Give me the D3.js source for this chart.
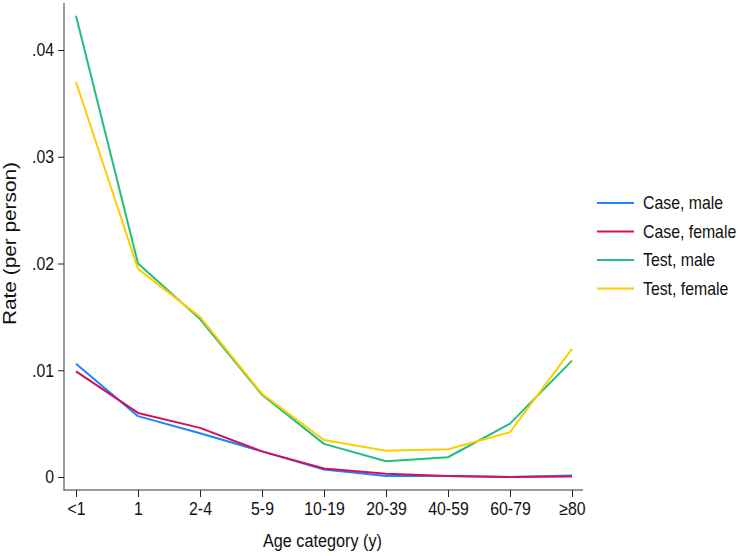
<!DOCTYPE html>
<html>
<head>
<meta charset="utf-8">
<script src="https://cdn.jsdelivr.net/npm/d3@7"></script>
<style>
  body { margin: 0; background: #fff; }
  svg text { font-family: "Liberation Sans", Arial, sans-serif; fill: #111; }
</style>
</head>
<body>
<div id="chart"></div>
<script>
const categories = ["<1", "1", "2-4", "5-9", "10-19", "20-39", "40-59", "60-79", "≥80"];
const yTicks = [0, 0.01, 0.02, 0.03, 0.04];
const yTickLabels = ["0", ".01", ".02", ".03", ".04"];

const caseMale   = [0.0106, 0.0057, 0.0041, 0.0024, 0.0007, 0.0001, 0.0001, 0.0000, 0.00015];
const caseFemale = [0.0099, 0.0060, 0.0046, 0.0024, 0.0008, 0.0003, 0.0001, 0.0000, 0.00005];
const testMale   = [0.0432, 0.0200, 0.0148, 0.0077, 0.0031, 0.00147, 0.00185, 0.0050, 0.0109];
const testFemale = [0.0370, 0.0195, 0.0150, 0.0078, 0.00347, 0.00246, 0.0026, 0.0042, 0.0120];

const seriesNames = ["Case, male", "Case, female", "Test, male", "Test, female"];
const seriesColors = ["#1a85ff", "#d41159", "#1fbf7f", "#ffcc00"];
const seriesValues = [caseMale, caseFemale, testMale, testFemale];

const width = 744, height = 556;
const margin = {top: 3, right: 161, bottom: 66, left: 64};
const squeeze = 0.88;  // text in the original is a bit narrow

const svg = d3.select("#chart").append("svg")
  .attr("width", width)
  .attr("height", height);

const x = d3.scalePoint()
  .domain(categories)
  .range([76, 572]);

const y = d3.scaleLinear()
  .domain([0, 0.04])
  .range([477, 50]);

const axisColor = "#777";

// y axis
const yAxis = svg.append("g")
  .attr("transform", `translate(${margin.left},0)`)
  .call(d3.axisLeft(y).tickValues(yTicks).tickFormat((d, i) => yTickLabels[i]).tickSize(6).tickPadding(4));
yAxis.select(".domain").attr("d", `M0,${margin.top}V${height - margin.bottom + 1}`)
  .attr("stroke", axisColor).attr("stroke-width", 1.5);
yAxis.selectAll(".tick line").attr("stroke", "#222");
yAxis.selectAll(".tick text")
  .attr("font-size", 18).style("font-family", null)
  .attr("x", -10 / squeeze)
  .attr("transform", `scale(${squeeze},1)`);

// x axis
const xAxis = svg.append("g")
  .attr("transform", `translate(0,${height - margin.bottom})`)
  .call(d3.axisBottom(x).tickSize(7).tickPadding(5));
xAxis.select(".domain").attr("d", `M${margin.left},0H583`)
  .attr("stroke", axisColor).attr("stroke-width", 1.5);
xAxis.selectAll(".tick line").attr("stroke", "#222");
xAxis.selectAll(".tick text")
  .attr("font-size", 18).style("font-family", null)
  .attr("transform", `scale(${squeeze},1)`);

// titles
svg.append("text")
  .attr("x", 322.5).attr("y", 547)
  .attr("text-anchor", "middle")
  .attr("font-size", 18)
  .attr("textLength", 119)
  .attr("lengthAdjust", "spacingAndGlyphs")
  .text("Age category (y)");

svg.append("text")
  .attr("transform", `translate(16,243.5) rotate(-90)`)
  .attr("text-anchor", "middle")
  .attr("font-size", 19)
  .attr("textLength", 163)
  .attr("lengthAdjust", "spacingAndGlyphs")
  .text("Rate (per person)");

// lines
const line = d3.line()
  .x((d, i) => x(categories[i]))
  .y(d => y(d));

svg.append("g").selectAll("path")
  .data(seriesValues)
  .join("path")
  .attr("fill", "none")
  .attr("stroke", (d, i) => seriesColors[i])
  .attr("stroke-width", 2)
  .attr("stroke-linejoin", "round")
  .attr("d", line);

// legend
const legend = svg.append("g");
seriesNames.forEach((name, i) => {
  const yy = 203 + i * 28.5;
  legend.append("line")
    .attr("x1", 597).attr("x2", 634)
    .attr("y1", yy).attr("y2", yy)
    .attr("stroke", seriesColors[i])
    .attr("stroke-width", 2);
  legend.append("text")
    .attr("transform", `translate(643,${yy}) scale(${squeeze},1)`)
    .attr("dy", "0.35em")
    .attr("font-size", 18)
    .text(name);
});
</script>
</body>
</html>
